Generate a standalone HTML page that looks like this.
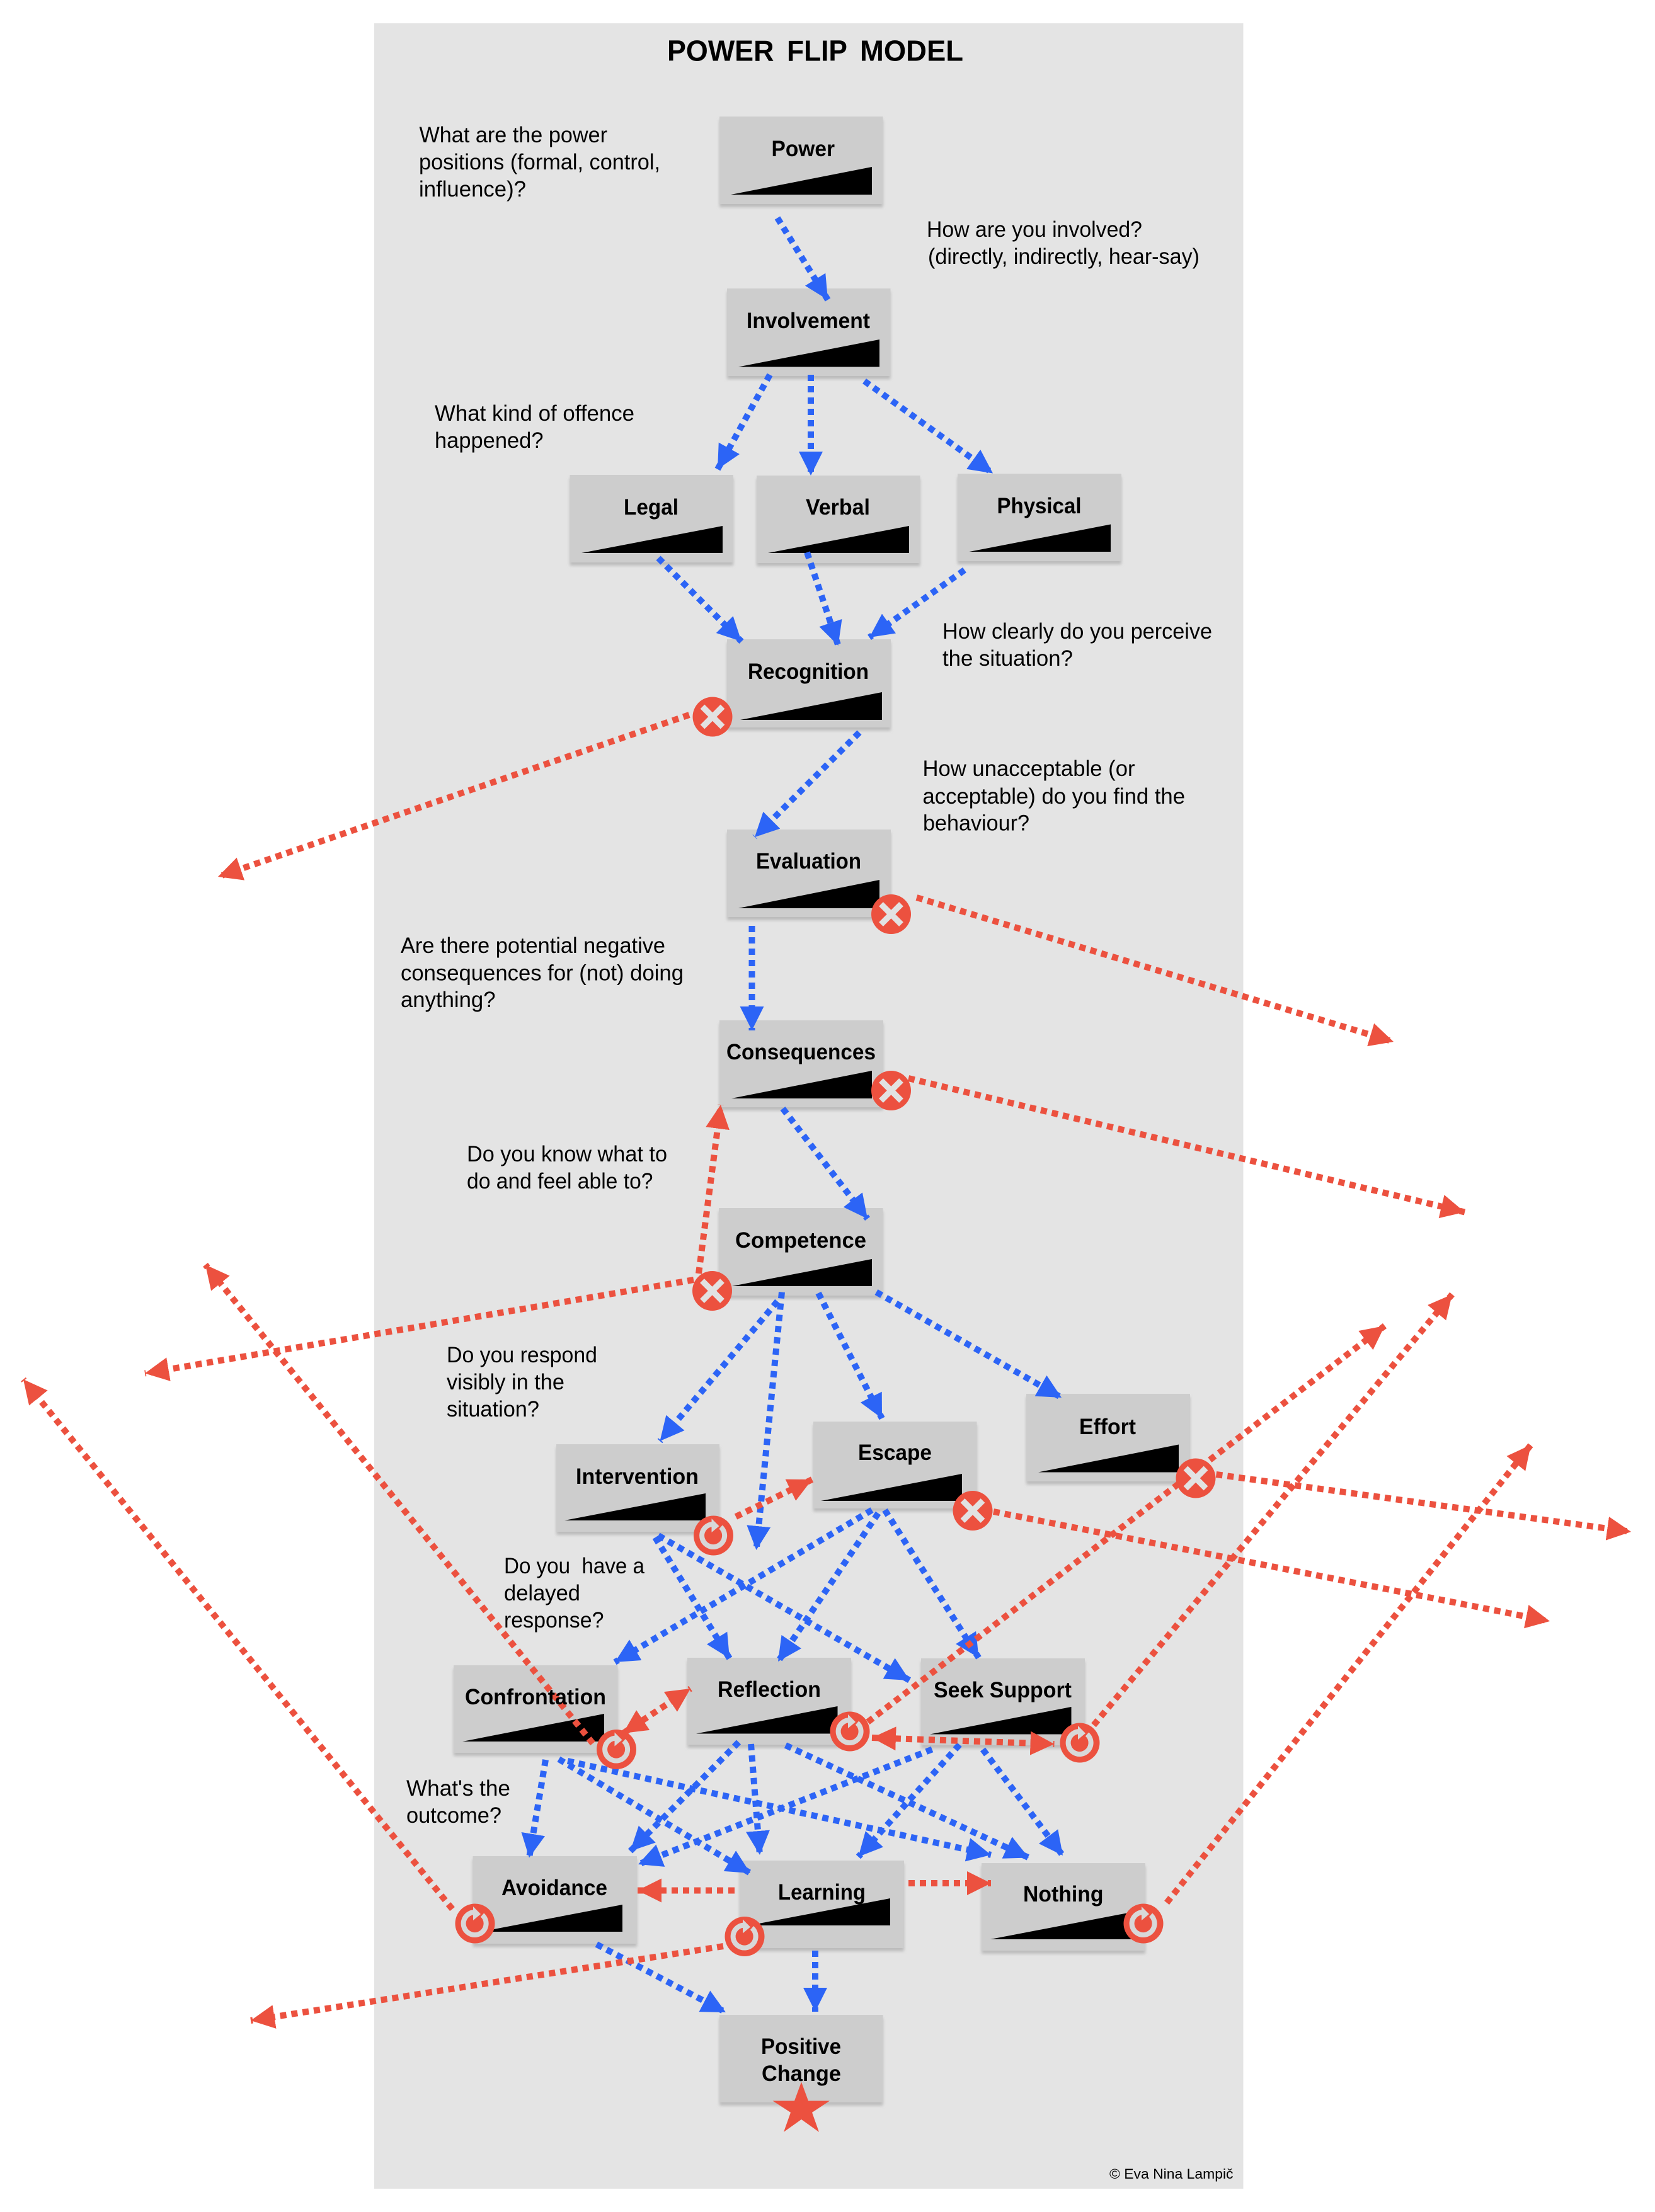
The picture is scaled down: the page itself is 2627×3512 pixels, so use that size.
<!DOCTYPE html>
<html lang="en">
<head>
<meta charset="utf-8">
<title>Power Flip Model</title>
<style>
html,body{margin:0;padding:0;background:#fff;width:2627px;height:3512px;overflow:hidden}
svg{display:block}
text{font-family:"Liberation Sans",Arial,sans-serif;fill:#000}
.l{font-weight:bold;font-size:35px}
.q{font-size:35.5px}
.t{font-weight:bold;font-size:46px}
.c{font-size:22px}
.box rect{fill:#cdcdcd;filter:url(#sh)}
.b line{stroke:#2c64f6;stroke-width:10;stroke-dasharray:10 8;marker-end:url(#ab)}
.r line{stroke:#ec513f;stroke-width:10;stroke-dasharray:10 8;marker-end:url(#ar)}
.r line.d{marker-start:url(#ars)}
</style>
</head>
<body>
<svg xmlns="http://www.w3.org/2000/svg" width="2627" height="3512" viewBox="0 0 2627 3512">
<defs>
<filter id="sh" x="-10%" y="-10%" width="120%" height="125%"><feDropShadow dx="0" dy="5" stdDeviation="2.5" flood-color="#9a9a9a" flood-opacity=".55"/></filter>
<marker id="ab" markerUnits="userSpaceOnUse" markerWidth="40" markerHeight="42" refX="38" refY="21" orient="auto"><path d="M0 2L38 21L0 40z" fill="#2c64f6"/></marker>
<marker id="ar" markerUnits="userSpaceOnUse" markerWidth="40" markerHeight="42" refX="38" refY="21" orient="auto"><path d="M0 2L38 21L0 40z" fill="#ec513f"/></marker>
<marker id="ars" markerUnits="userSpaceOnUse" markerWidth="40" markerHeight="42" refX="38" refY="21" orient="auto-start-reverse"><path d="M0 2L38 21L0 40z" fill="#ec513f"/></marker>
<g id="x"><circle r="31.5" fill="#ec513f"/><path d="M-16 -16L16 16M16 -16L-16 16" stroke="#e2e2e2" stroke-width="9.5" fill="none"/></g>
<g id="o"><circle r="31.5" fill="#ec513f"/><path d="M11.5 -13.5A18 18 0 1 1 -2 -17.9" stroke="#d8d8d8" stroke-width="8" fill="none"/><path d="M-3 -27L9 -15L-3 -5z" fill="#d8d8d8"/></g>
</defs>

<rect x="594" y="37" width="1379.5" height="3438" fill="#e4e4e4"/>

<g class="box">
<rect x="1142" y="185" width="259.5" height="139"/>
<rect x="1154" y="458" width="259.5" height="139"/>
<rect x="904.5" y="754" width="259.5" height="139"/>
<rect x="1201" y="755" width="259.5" height="139"/>
<rect x="1520" y="752" width="260" height="139"/>
<rect x="1154" y="1015" width="260" height="140"/>
<rect x="1154" y="1317" width="260" height="139"/>
<rect x="1142" y="1620" width="260" height="138"/>
<rect x="1141" y="1918" width="260.5" height="139"/>
<rect x="883" y="2293" width="259" height="139"/>
<rect x="1291" y="2257" width="259.5" height="138"/>
<rect x="1629" y="2213" width="260" height="139"/>
<rect x="720" y="2644" width="260.5" height="139"/>
<rect x="1091" y="2632" width="260" height="138"/>
<rect x="1462" y="2633" width="260" height="138"/>
<rect x="750.5" y="2947" width="260.5" height="139"/>
<rect x="1174" y="2954" width="261" height="139"/>
<rect x="1558" y="2958" width="260" height="139"/>
<rect x="1142" y="3199" width="259.5" height="139"/>
</g>

<g fill="#000">
<polygon points="1160,309 1384,265 1384,309"/>
<polygon points="1172,582.5 1396,539 1396,582.5"/>
<polygon points="923,878 1147,835 1147,878"/>
<polygon points="1219,878 1443,835 1443,878"/>
<polygon points="1538.5,876 1763,832.5 1763,876"/>
<polygon points="1175,1143 1400,1099 1400,1143"/>
<polygon points="1172,1442 1396,1397 1396,1442"/>
<polygon points="1161,1744 1384,1700 1384,1744"/>
<polygon points="1162,2042 1384,1999 1384,2042"/>
<polygon points="896,2414 1120,2371 1120,2414"/>
<polygon points="1303,2383 1527,2340 1527,2383"/>
<polygon points="1648,2337.5 1871,2293.5 1871,2337.5"/>
<polygon points="734,2765 959,2721 959,2765"/>
<polygon points="1105,2752.5 1329.5,2709 1329.5,2752.5"/>
<polygon points="1476,2753.5 1700.5,2710 1700.5,2753.5"/>
<polygon points="763,3067 988,3024 988,3067"/>
<polygon points="1189,3057 1413,3014 1413,3057"/>
<polygon points="1572,3079 1796,3036 1796,3079"/>
</g>

<g class="b">
<line x1="1234" y1="346" x2="1314" y2="476"/>
<line x1="1222" y1="595" x2="1139" y2="745"/>
<line x1="1287" y1="595" x2="1287" y2="755"/>
<line x1="1372" y1="605" x2="1576" y2="751.5"/>
<line x1="1045" y1="886" x2="1177" y2="1018.5"/>
<line x1="1281" y1="877" x2="1330.5" y2="1025"/>
<line x1="1531" y1="905" x2="1380" y2="1012"/>
<line x1="1364" y1="1163" x2="1198" y2="1329"/>
<line x1="1193.5" y1="1470" x2="1193.5" y2="1636"/>
<line x1="1242.5" y1="1760" x2="1377" y2="1935"/>
<line x1="1234" y1="2066" x2="1047.5" y2="2288"/>
<line x1="1241" y1="2051.5" x2="1200.5" y2="2461"/>
<line x1="1299" y1="2053" x2="1400" y2="2252"/>
<line x1="1391" y1="2051.5" x2="1685" y2="2219"/>
<line x1="1040" y1="2441" x2="1158" y2="2633"/>
<line x1="1045" y1="2438" x2="1444" y2="2668"/>
<line x1="1384" y1="2397.5" x2="976" y2="2639"/>
<line x1="1394" y1="2402.5" x2="1235" y2="2638"/>
<line x1="1404.5" y1="2397.5" x2="1553.5" y2="2632"/>
<line x1="866" y1="2794" x2="840" y2="2949.5"/>
<line x1="887" y1="2793" x2="1191" y2="2974"/>
<line x1="901" y1="2796" x2="1573" y2="2945"/>
<line x1="1172.5" y1="2766" x2="1000.5" y2="2939"/>
<line x1="1192" y1="2769" x2="1206" y2="2945"/>
<line x1="1247" y1="2771" x2="1633" y2="2949.5"/>
<line x1="1479.5" y1="2777.5" x2="1013" y2="2960"/>
<line x1="1523" y1="2770" x2="1362.5" y2="2948"/>
<line x1="1560" y1="2777.5" x2="1687" y2="2946"/>
<line x1="947" y1="3087" x2="1152" y2="3195"/>
<line x1="1294" y1="3097" x2="1294" y2="3194"/>
</g>

<g class="r">
<line x1="1094" y1="1135" x2="346" y2="1392"/>
<line x1="1455" y1="1425" x2="2212" y2="1654"/>
<line x1="1442" y1="1712" x2="2325" y2="1924.5"/>
<line x1="1109" y1="2022" x2="1144" y2="1754"/>
<line x1="1101" y1="2032" x2="230" y2="2180.5"/>
<line x1="1168" y1="2408" x2="1289" y2="2349"/>
<line x1="1930.5" y1="2341" x2="2589" y2="2432"/>
<line x1="1577" y1="2400" x2="2460" y2="2574"/>
<line x1="1377.5" y1="2734" x2="2198" y2="2105"/>
<line x1="1736" y1="2739" x2="2305" y2="2055"/>
<line x1="1852" y1="3021" x2="2430" y2="2294"/>
<line x1="941" y1="2768" x2="326" y2="2008"/>
<line x1="718" y1="3031" x2="37" y2="2190"/>
<line x1="1148" y1="3090" x2="398" y2="3208"/>
<line class="d" x1="989" y1="2752" x2="1096" y2="2681"/>
<line class="d" x1="1384" y1="2759" x2="1673.5" y2="2769"/>
<line x1="1166" y1="3001.5" x2="1012" y2="3001.5"/>
<line x1="1442" y1="2990" x2="1573" y2="2990"/>
</g>

<use href="#x" x="1131" y="1138"/>
<use href="#x" x="1414.5" y="1451.5"/>
<use href="#x" x="1414.5" y="1731.5"/>
<use href="#x" x="1130.5" y="2049.5"/>
<use href="#x" x="1544" y="2398.5"/>
<use href="#x" x="1898" y="2347"/>
<use href="#o" x="1132.5" y="2438"/>
<use href="#o" x="978.5" y="2777.5"/>
<use href="#o" x="1349" y="2749"/>
<use href="#o" x="1714" y="2767"/>
<use href="#o" x="754" y="3054"/>
<use href="#o" x="1182" y="3074.5"/>
<use href="#o" x="1815" y="3054"/>

<g class="t">
<text x="1059" y="96.5" textLength="169.5" lengthAdjust="spacingAndGlyphs">POWER</text>
<text x="1249" y="96.5" textLength="96" lengthAdjust="spacingAndGlyphs">FLIP</text>
<text x="1365" y="96.5" textLength="164" lengthAdjust="spacingAndGlyphs">MODEL</text>
</g>

<g class="l">
<text x="1224.5" y="248" textLength="100.5" lengthAdjust="spacingAndGlyphs">Power</text>
<text x="1185" y="521" textLength="196" lengthAdjust="spacingAndGlyphs">Involvement</text>
<text x="990" y="817" textLength="87" lengthAdjust="spacingAndGlyphs">Legal</text>
<text x="1279" y="817" textLength="102" lengthAdjust="spacingAndGlyphs">Verbal</text>
<text x="1582.5" y="815" textLength="134" lengthAdjust="spacingAndGlyphs">Physical</text>
<text x="1187" y="1078" textLength="192" lengthAdjust="spacingAndGlyphs">Recognition</text>
<text x="1200" y="1379" textLength="167" lengthAdjust="spacingAndGlyphs">Evaluation</text>
<text x="1153" y="1682" textLength="237" lengthAdjust="spacingAndGlyphs">Consequences</text>
<text x="1167" y="1981" textLength="208" lengthAdjust="spacingAndGlyphs">Competence</text>
<text x="914" y="2356" textLength="195" lengthAdjust="spacingAndGlyphs">Intervention</text>
<text x="1362" y="2318" textLength="117" lengthAdjust="spacingAndGlyphs">Escape</text>
<text x="1713" y="2277" textLength="90" lengthAdjust="spacingAndGlyphs">Effort</text>
<text x="738" y="2706" textLength="224" lengthAdjust="spacingAndGlyphs">Confrontation</text>
<text x="1139" y="2694" textLength="164" lengthAdjust="spacingAndGlyphs">Reflection</text>
<text x="1482" y="2695" textLength="219" lengthAdjust="spacingAndGlyphs">Seek Support</text>
<text x="796" y="3009" textLength="168" lengthAdjust="spacingAndGlyphs">Avoidance</text>
<text x="1235" y="3016" textLength="139" lengthAdjust="spacingAndGlyphs">Learning</text>
<text x="1624" y="3019" textLength="127.5" lengthAdjust="spacingAndGlyphs">Nothing</text>
<text x="1208" y="3261" textLength="127" lengthAdjust="spacingAndGlyphs">Positive</text>
<text x="1209" y="3304" textLength="126" lengthAdjust="spacingAndGlyphs">Change</text>
</g>

<g class="q">
<text x="665.5" y="226" textLength="298.5" lengthAdjust="spacingAndGlyphs">What are the power</text>
<text x="665" y="269" textLength="383" lengthAdjust="spacingAndGlyphs">positions (formal, control,</text>
<text x="665" y="312" textLength="170" lengthAdjust="spacingAndGlyphs">influence)?</text>
<text x="1471" y="376" textLength="342" lengthAdjust="spacingAndGlyphs">How are you involved?</text>
<text x="1473" y="419" textLength="431" lengthAdjust="spacingAndGlyphs">(directly, indirectly, hear-say)</text>
<text x="690" y="668" textLength="317" lengthAdjust="spacingAndGlyphs">What kind of offence</text>
<text x="690" y="711" textLength="172.5" lengthAdjust="spacingAndGlyphs">happened?</text>
<text x="1496" y="1014" textLength="428" lengthAdjust="spacingAndGlyphs">How clearly do you perceive</text>
<text x="1496" y="1057" textLength="207" lengthAdjust="spacingAndGlyphs">the situation?</text>
<text x="1464.5" y="1232" textLength="337" lengthAdjust="spacingAndGlyphs">How unacceptable (or</text>
<text x="1464.5" y="1276" textLength="416.5" lengthAdjust="spacingAndGlyphs">acceptable) do you find the</text>
<text x="1465" y="1318.5" textLength="169" lengthAdjust="spacingAndGlyphs">behaviour?</text>
<text x="636" y="1513" textLength="420" lengthAdjust="spacingAndGlyphs">Are there potential negative</text>
<text x="636" y="1556.5" textLength="449" lengthAdjust="spacingAndGlyphs">consequences for (not) doing</text>
<text x="636" y="1599" textLength="150.5" lengthAdjust="spacingAndGlyphs">anything?</text>
<text x="741" y="1844" textLength="318" lengthAdjust="spacingAndGlyphs">Do you know what to</text>
<text x="741" y="1887" textLength="295.5" lengthAdjust="spacingAndGlyphs">do and feel able to?</text>
<text x="709" y="2163" textLength="239" lengthAdjust="spacingAndGlyphs">Do you respond</text>
<text x="709" y="2206" textLength="187" lengthAdjust="spacingAndGlyphs">visibly in the</text>
<text x="709" y="2249" textLength="147" lengthAdjust="spacingAndGlyphs">situation?</text>
<text x="800" y="2498" textLength="223" lengthAdjust="spacingAndGlyphs" xml:space="preserve">Do you  have a</text>
<text x="800" y="2541" textLength="121" lengthAdjust="spacingAndGlyphs">delayed</text>
<text x="800" y="2584" textLength="158.5" lengthAdjust="spacingAndGlyphs">response?</text>
<text x="645" y="2851" textLength="165" lengthAdjust="spacingAndGlyphs">What's the</text>
<text x="645" y="2894" textLength="151" lengthAdjust="spacingAndGlyphs">outcome?</text>
</g>

<text class="c" x="1761" y="3459" textLength="196.5" lengthAdjust="spacingAndGlyphs">© Eva Nina Lampič</text>

<polygon points="1272,3305.5 1283,3335.5 1317,3335.5 1289,3354 1300,3385 1272,3365 1244,3385 1255,3354 1226.5,3335.5 1261,3335.5" fill="#ec513f"/>
</svg>
</body>
</html>
